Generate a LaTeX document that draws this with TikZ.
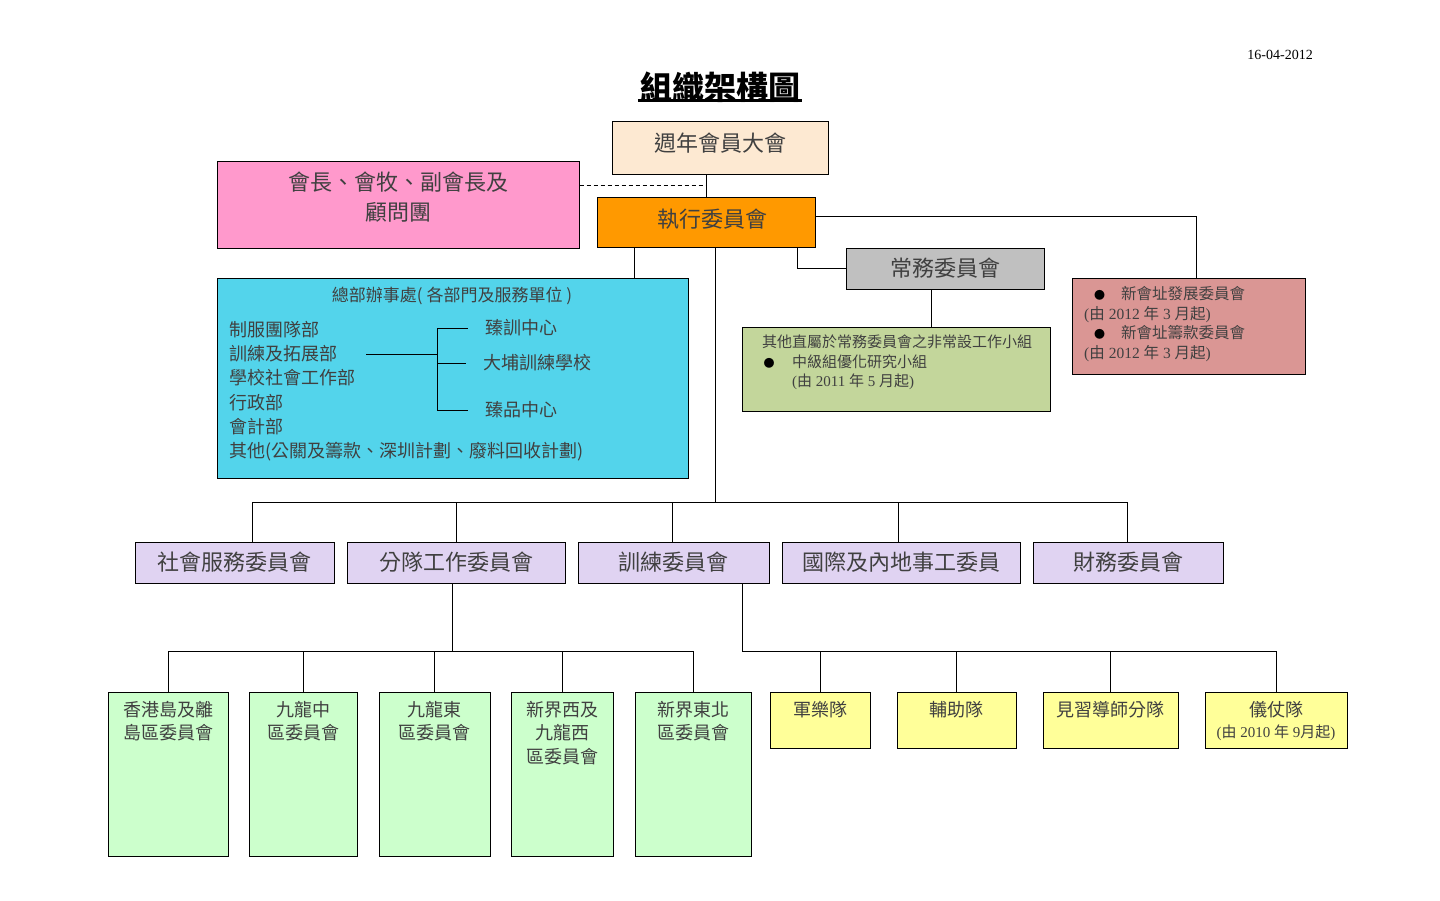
\documentclass[tikz,border=0pt]{standalone}
\usepackage{fontspec}
\setmainfont{Liberation Serif}
\newfontfamily\cjk{Noto Sans CJK TC}
\usetikzlibrary{positioning}
\definecolor{peach}{HTML}{FDE9D2}
\definecolor{pinkbox}{HTML}{FF99CC}
\definecolor{orangebox}{HTML}{FF9900}
\definecolor{graybox}{HTML}{C0C0C0}
\definecolor{olivebox}{HTML}{C3D69B}
\definecolor{rosebox}{HTML}{DA9694}
\definecolor{cyanbox}{HTML}{53D4EB}
\definecolor{lavender}{HTML}{E0D3F2}
\definecolor{mintbox}{HTML}{CCFFCC}
\definecolor{yellowbox}{HTML}{FFFF99}
\newcommand{\zh}[1]{{\cjk #1}}
\newcommand{\fsz}[2]{\fontsize{#1}{#2}\selectfont}
\newcommand{\blt}{{\color{black}\fsz{11}{11}\zh{●}}}
\tikzset{box/.style={draw,line width=1pt,inner sep=0pt,text=black!75}}
\tikzset{ln/.style={line width=0.9pt}}
\tikzset{lbl/.style={inner sep=0pt,text=black!75,align=center}}

\begin{document}
\begin{tikzpicture}[x=1pt,y=-1pt]
        \useasboundingbox (0,0) rectangle (1440,900);

        \node[inner sep=0pt,anchor=east,font=\fsz{14}{16}] (date) at (1313,55) {16-04-2012};
        \node[inner sep=0pt,font=\cjk\bfseries\fsz{32}{36}] (title) at (720,87) {組織架構圖};
        \draw[line width=2.5pt] ([xshift=-2pt,yshift=2pt]title.south west) -- ([xshift=2pt,yshift=2pt]title.south east);

        \node[box,fill=peach,minimum width=216pt,minimum height=53pt] (agm) at (720,147.5) {};
        \node[lbl,font=\cjk\fsz{22}{26}] (agmtxt) at (720,143) {週年會員大會};
        \node[box,fill=pinkbox,minimum width=362pt,minimum height=87pt] (adv) at (398,204.5) {};
        \node[lbl,font=\cjk\fsz{22}{30}] (advtxt) at (398,197) {會長、會牧、副會長及\\顧問團};
        \node[box,fill=orangebox,minimum width=218pt,minimum height=50pt] (exec) at (706,222) {};
        \node[lbl,font=\cjk\fsz{22}{26}] (exectxt) at (712,219) {執行委員會};
        \node[box,fill=graybox,minimum width=198pt,minimum height=41pt,font=\cjk\fsz{22}{26}] (standing) at (945,268.5) {常務委員會};

        \node[box,fill=olivebox,minimum width=308pt,minimum height=84pt] (task) at (896,369) {};
        \node[lbl,anchor=north west,align=left,font=\fsz{15}{19.5}] (tasktxt) at (762,335)
            {\zh{其他直屬於常務委員會之非常設工作小組}\\\hspace*{1.5pt}\blt\hspace{17.5pt}\zh{中級組優化研究小組}\\\hspace*{30pt}(\zh{由} 2011 \zh{年} 5 \zh{月起})};

        \node[box,fill=rosebox,minimum width=233pt,minimum height=96pt] (newsite) at (1188.5,326) {};
        \node[lbl,anchor=north west,align=left,font=\fsz{15.5}{19.7}] (newtxt) at (1084,286)
            {\hspace*{10pt}\blt\hspace{16pt}\zh{新會址發展委員會}\\(\zh{由} 2012 \zh{年} 3 \zh{月起})\\\hspace*{10pt}\blt\hspace{16pt}\zh{新會址籌款委員會}\\(\zh{由} 2012 \zh{年} 3 \zh{月起})};

        \node[box,fill=cyanbox,minimum width=471pt,minimum height=200pt] (hq) at (452.5,378) {};
        \node[lbl,font=\cjk\fsz{17}{20}] (hqtitle) at (452,296) {總部辦事處( 各部門及服務單位 )};
        \node[lbl,anchor=north west,align=left,font=\cjk\fsz{18}{24.2}] (depts) at (229,321)
            {制服團隊部\\訓練及拓展部\\學校社會工作部\\行政部\\會計部\\其他(公關及籌款、深圳計劃、廢料回收計劃)};
        \node[lbl,anchor=west,font=\cjk\fsz{18}{22}] (c1) at (485,328) {臻訓中心};
        \node[lbl,anchor=west,font=\cjk\fsz{18}{22}] (c2) at (483,363) {大埔訓練學校};
        \node[lbl,anchor=west,font=\cjk\fsz{18}{22}] (c3) at (485,410) {臻品中心};
        \coordinate (forkin) at (366,354);
        \coordinate (fork) at (437,354);
        \draw[ln] (forkin) -- (fork);
        \foreach \c in {c1,c2,c3}
            \draw[ln] (fork) |- ([xshift=-17pt]\c.west);

        \tikzset{comm/.style={box,fill=lavender,minimum height=41pt,font=\cjk\fsz{22}{26}}}
        \node[comm,minimum width=199pt] (social) at (234.5,562.5) {社會服務委員會};
        \node[comm,minimum width=218pt] (branch) at (456,562.5) {分隊工作委員會};
        \node[comm,minimum width=191pt] (train) at (673.5,562.5) {訓練委員會};
        \node[comm,minimum width=238pt] (intl) at (901,562.5) {國際及內地事工委員};
        \node[comm,minimum width=190pt] (finance) at (1128,562.5) {財務委員會};

        \tikzset{dist/.style={box,fill=mintbox,minimum height=164pt}}
        \tikzset{dtxt/.style={lbl,anchor=north,font=\cjk\fsz{18}{23.5}}}
        \node[dist,minimum width=120pt] (hk) at (168,774) {};
        \node[dist,minimum width=108pt] (kc) at (303,774) {};
        \node[dist,minimum width=111pt] (ke) at (434.5,774) {};
        \node[dist,minimum width=102pt] (ntw) at (562,774) {};
        \node[dist,minimum width=116pt] (nte) at (693,774) {};
        \node[dtxt] (hktxt) at (168,701) {香港島及離\\島區委員會};
        \node[dtxt] (kctxt) at (303,701) {九龍中\\區委員會};
        \node[dtxt] (ketxt) at (434.5,701) {九龍東\\區委員會};
        \node[dtxt] (ntwtxt) at (562,701) {新界西及\\九龍西\\區委員會};
        \node[dtxt] (ntetxt) at (693,701) {新界東北\\區委員會};

        \tikzset{unit/.style={box,fill=yellowbox,minimum height=56pt}}
        \node[unit,minimum width=100pt] (band) at (820,720) {};
        \node[unit,minimum width=119pt] (aux) at (956.5,720) {};
        \node[unit,minimum width=135pt] (mentor) at (1110.5,720) {};
        \node[unit,minimum width=142pt] (guard) at (1276,720) {};
        \node[dtxt] (bandtxt) at (820,701) {軍樂隊};
        \node[dtxt] (auxtxt) at (956.5,701) {輔助隊};
        \node[dtxt] (mentortxt) at (1110.5,701) {見習導師分隊};
        \node[dtxt,font=\fsz{18}{21}] (guardtxt) at (1276,701) {\zh{儀仗隊}\\{\fsz{15}{18}(\zh{由} 2010 \zh{年} 9\zh{月起})}};

        \draw[ln] (exec.north) -- (exec.north |- agm.south);
        \coordinate (advj) at (706,185);
        \draw[ln,dash pattern=on 4pt off 3pt] (adv.east |- advj) -- (advj);
        \draw[ln] ([yshift=6pt]exec.east) -| ([xshift=7.5pt]newsite.north);
        \draw[ln] ([xshift=91pt]exec.south) |- (standing.west);
        \draw[ln] ([xshift=-14pt]standing.south) -- ([xshift=-14pt]standing.south |- task.north);
        \draw[ln] ([xshift=-72pt]exec.south) -- ([xshift=-72pt]exec.south |- hq.north);

        \coordinate (bus) at (715,502);
        \draw[ln] (exec.south -| bus) -- (bus);
        \foreach \n/\d in {social/17.5,branch/0,train/-1.5,intl/-3,finance/-1}
            \draw[ln] (bus) -| ([xshift=\d pt]\n.north);

        \coordinate (dbus) at (452,651);
        \draw[ln] (branch.south -| dbus) -- (dbus);
        \foreach \n in {hk,kc,ke,ntw,nte}
            \draw[ln] (dbus) -| (\n.north);

        \coordinate (ubus) at (742,651);
        \draw[ln] (train.south -| ubus) -- (ubus);
        \foreach \n in {band,aux,mentor,guard}
            \draw[ln] (ubus) -| (\n.north);
    \end{tikzpicture}
\end{document}
